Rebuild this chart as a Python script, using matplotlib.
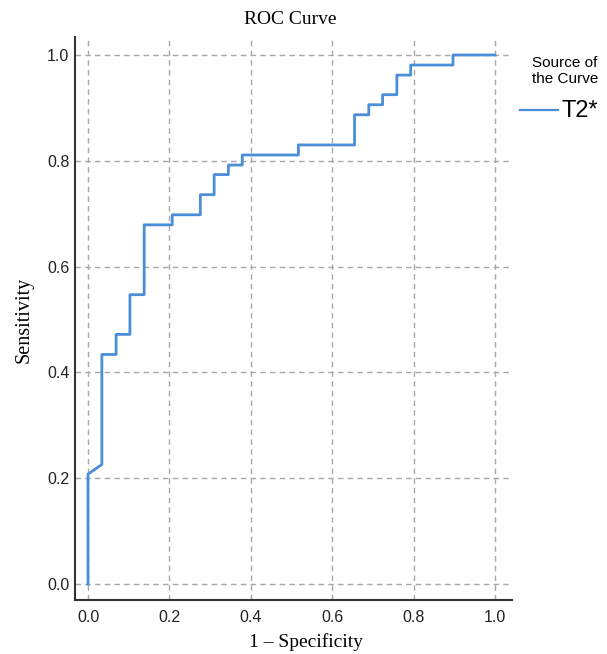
import matplotlib
matplotlib.use("Agg")
import matplotlib.pyplot as plt

# ROC points (step curve)
fpr = [0.0, 0.0, 0.034, 0.034, 0.069, 0.069, 0.103, 0.103, 0.138, 0.138,
       0.207, 0.207, 0.276, 0.276, 0.310, 0.310, 0.345, 0.345, 0.379, 0.379,
       0.517, 0.517, 0.655, 0.655, 0.690, 0.690, 0.724, 0.724, 0.759, 0.759,
       0.793, 0.793, 0.897, 0.897, 1.0]
tpr = [0.0, 0.208, 0.226, 0.434, 0.434, 0.472, 0.472, 0.547, 0.547, 0.679,
       0.679, 0.698, 0.698, 0.736, 0.736, 0.774, 0.774, 0.792, 0.792, 0.811,
       0.811, 0.830, 0.830, 0.887, 0.887, 0.906, 0.906, 0.925, 0.925, 0.962,
       0.962, 0.981, 0.981, 1.0, 1.0]
ticks = [0.0, 0.2, 0.4, 0.6, 0.8, 1.0]
tick_labels = ["0.0", "0.2", "0.4", "0.6", "0.8", "1.0"]

W, H = 607, 654
fig = plt.figure(figsize=(W / 100, H / 100), dpi=100)
ax = fig.add_axes([75 / W, 1 - 600 / H, (512 - 75) / W, (600 - 37) / H])

line_color = "#4a8ed8"
ax.plot(fpr, tpr, color=line_color, lw=2)

ax.set_xlim(-0.032, 1.042)
ax.set_ylim(-0.030, 1.034)
ax.set_xticks(ticks)
ax.set_xticklabels(tick_labels)
ax.set_yticks(ticks)
ax.set_yticklabels(tick_labels)
for lab in ax.get_xticklabels() + ax.get_yticklabels():
    lab.set_fontfamily("Liberation Sans")
    lab.set_fontsize(11.5)
    lab.set_color("#222222")
ax.tick_params(direction="in", length=3, width=0.8, color="#aaaaaa")
ax.tick_params(axis="y", pad=4)
ax.tick_params(axis="x", pad=7)
ax.grid(True, color="#a8a8a8", linestyle=(0, (4, 3)), lw=1)

for s in ["top", "right"]:
    ax.spines[s].set_visible(False)
for s in ["left", "bottom"]:
    ax.spines[s].set_color("#333333")
    ax.spines[s].set_linewidth(1.5)

serif = "Liberation Serif"
fig.text(290 / W, 1 - 20 / H, "ROC Curve", ha="center", va="center",
         fontfamily=serif, fontsize=14)
fig.text(306 / W, 1 - 642 / H, "1 \u2013 Specificity", ha="center", va="center",
         fontfamily=serif, fontsize=14)
fig.text(24 / W, 1 - 320 / H, "Sensitivity", ha="center", va="center",
         rotation=90, fontfamily=serif, fontsize=14.5)

# legend
fig.text(565 / W, 1 - 71 / H, "Source of\nthe Curve", ha="center", va="center",
         fontfamily="Liberation Sans", fontsize=11, linespacing=1.15)
fig.add_artist(plt.Line2D([520 / W, 558 / W], [1 - 110 / H, 1 - 110 / H],
                          color=line_color, lw=1.6))
fig.text(561 / W, 1 - 111 / H, "T2*", ha="left", va="center",
         fontfamily="Liberation Sans", fontsize=17)

fig.savefig("out.png", dpi=100)
